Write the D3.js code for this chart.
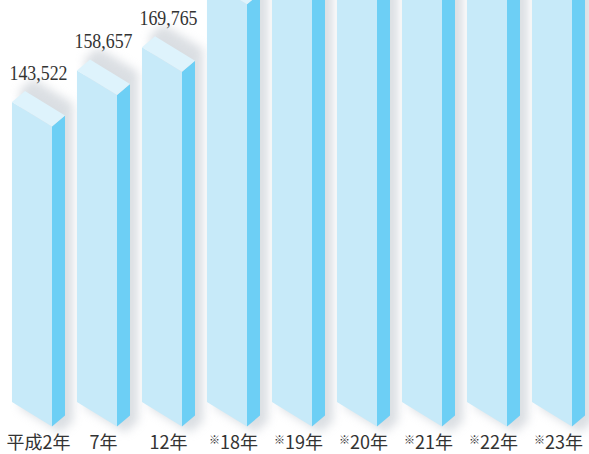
<!DOCTYPE html>
<html>
<head>
<meta charset="utf-8">
<script src="https://cdn.jsdelivr.net/npm/d3@7"></script>
<style>
  body { margin: 0; background: #fff; }
  svg { display: block; }
</style>
</head>
<body>
<svg width="589" height="454"></svg>
<script>
// categories and values (bars after 12年 run off the top, values estimated)
let categories = ["平成2年", "7年", "12年", "※18年", "※19年", "※20年", "※21年", "※22年", "※23年"];
let values = [143522, 158657, 169765, 202000, 208000, 211000, 213000, 215000, 217000];
let valueLabels = ["143,522", "158,657", "169,765", "", "", "", "", "", ""];

let data = categories.map((c, i) => ({ cat: c, v: values[i], label: valueLabels[i] }));

let svg = d3.select("svg");
let base = 402;
let frontW = 40, depthX = 13, depthY = 11, slope = 24.5;

let scX = d3.scaleBand()
            .domain(categories)
            .range([12, 585])
            .paddingInner(12 / 65)
            .paddingOuter(0);
let scY = d3.scaleLinear()
            .domain([0, 150000])
            .range([base, base - 313.5]);

let defs = svg.append("defs");
defs.append("filter").attr("id", "blur")
    .attr("x", "-50%").attr("y", "-20%").attr("width", "200%").attr("height", "140%")
    .append("feGaussianBlur").attr("stdDeviation", 5);

function pts(arr) { return arr.map(p => p.join(",")).join(" "); }

// shadows behind the bars
svg.append("g").attr("id", "shadows")
   .selectAll("polygon")
   .data(data)
   .enter()
   .append("polygon")
   .attr("fill", "#c3c9d0").attr("opacity", 0.6)
   .attr("filter", "url(#blur)")
   .attr("points", d => {
     let x0 = scX(d.cat) + 8, t = scY(d.v) - 12, b = base + 6;
     return pts([[x0, t], [x0 + depthX, t - depthY], [x0 + frontW + depthX, t + slope - depthY],
                 [x0 + frontW + depthX, b + slope - depthY], [x0 + frontW, b + slope], [x0, b]]);
   });

let bars = svg.append("g").attr("id", "bars")
              .selectAll("g")
              .data(data)
              .enter()
              .append("g");

// front face
bars.append("polygon")
    .attr("fill", "#c7eaf9")
    .attr("points", d => {
      let x0 = scX(d.cat), t = scY(d.v);
      return pts([[x0, t], [x0 + frontW, t + slope], [x0 + frontW, base + slope], [x0, base]]);
    });
// side face
bars.append("polygon")
    .attr("fill", "#6dcff5")
    .attr("points", d => {
      let x0 = scX(d.cat) + frontW, t = scY(d.v) + slope, b = base + slope;
      return pts([[x0, t], [x0 + depthX, t - depthY], [x0 + depthX, b - depthY], [x0, b]]);
    });
// top face
bars.append("polygon")
    .attr("fill", "#def3fc")
    .attr("points", d => {
      let x0 = scX(d.cat), t = scY(d.v);
      return pts([[x0, t], [x0 + depthX, t - depthY], [x0 + frontW + depthX, t + slope - depthY], [x0 + frontW, t + slope]]);
    });

// value labels
svg.append("g")
   .selectAll("text")
   .data(data.filter(d => d.label))
   .enter()
   .append("text")
   .attr("x", d => scX(d.cat) + scX.bandwidth() / 2)
   .attr("y", d => scY(d.v) - depthY - 11)
   .attr("text-anchor", "middle")
   .attr("font-family", "'Liberation Serif', serif")
   .attr("font-size", 20)
   .attr("fill", "#333")
   .attr("textLength", 58).attr("lengthAdjust", "spacingAndGlyphs")
   .text(d => d.label);

// category labels
let cats = svg.append("g")
   .selectAll("text")
   .data(categories)
   .enter()
   .append("text")
   .attr("x", d => scX(d) + scX.bandwidth() / 2)
   .attr("y", 449)
   .attr("text-anchor", "middle")
   .attr("font-family", "'Noto Sans CJK JP', sans-serif")
   .attr("font-size", 18)
   .attr("fill", "#333");

cats.each(function(d) {
  let t = d3.select(this);
  if (d.startsWith("※")) {
    t.append("tspan").attr("font-size", 11).attr("dy", -5).text("※");
    t.append("tspan").attr("dy", 5).text(d.slice(1));
  } else {
    t.text(d);
  }
});
</script>
</body>
</html>
